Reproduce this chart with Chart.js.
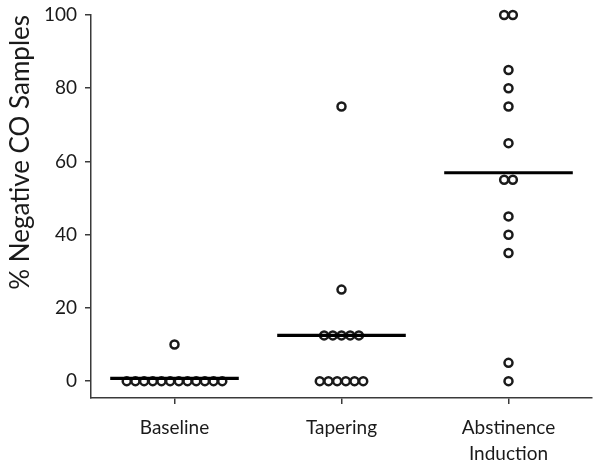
<!DOCTYPE html>
<html>
<head>
<meta charset="utf-8">
<script src="https://cdn.jsdelivr.net/npm/chart.js@4"></script>
<style>
  html, body { margin: 0; padding: 0; background: #fff; }
</style>
</head>
<body>
<canvas id="coChart" width="602" height="469"></canvas>
<script>
const categories = ["Baseline", "Tapering", ["Abstinence", "Induction"]];
const baseline = [0, 0, 0, 0, 0, 0, 0, 0, 0, 0, 0, 0, 10];
const tapering = [0, 0, 0, 0, 0, 0, 12.5, 12.5, 12.5, 12.5, 12.5, 25, 75];
const abstinence = [0, 5, 35, 40, 45, 55, 55, 65, 75, 80, 85, 100, 100];
const yTicks = [0, 20, 40, 60, 80, 100];

const groups = [baseline, tapering, abstinence];
const SPREAD = 0.052;
const HALF_LINE = 0.385;

// dot plot: identical values sit side by side around the category
function swarm(values, index) {
  const counts = {};
  values.forEach((v) => (counts[v] = (counts[v] || 0) + 1));
  const seen = {};
  return values.map((v) => {
    const i = seen[v] || 0;
    seen[v] = i + 1;
    return { x: index + (i - (counts[v] - 1) / 2) * SPREAD, y: v };
  });
}

function mean(values) {
  return values.reduce((a, b) => a + b, 0) / values.length;
}

const ink = "#1a1a1a";
const axisColor = "#3a3a3a";
const font = { family: "Lato", size: 19, lineHeight: 1.35 };

const pointSets = groups.map((g, i) => ({
  type: "scatter",
  data: swarm(g, i),
  pointRadius: 4,
  pointBorderWidth: 2.5,
  pointBorderColor: ink,
  pointBackgroundColor: "#fff",
  clip: false,
  order: 2,
}));

const meanSets = groups.map((g, i) => ({
  type: "line",
  data: [
    { x: i - HALF_LINE, y: mean(g) },
    { x: i + HALF_LINE, y: mean(g) },
  ],
  borderColor: "#000",
  borderWidth: 3.2,
  pointRadius: 0,
  clip: false,
  order: 1,
}));

new Chart(document.getElementById("coChart"), {
  type: "scatter",
  data: { datasets: [...meanSets, ...pointSets] },
  options: {
    responsive: false,
    animation: false,
    layout: { padding: { left: 4, right: 10, top: 15, bottom: 0 } },
    plugins: { legend: { display: false }, tooltip: { enabled: false } },
    scales: {
      x: {
        type: "linear",
        min: -0.5,
        max: 2.5,
        afterBuildTicks: (scale) => {
          scale.ticks = categories.map((c, i) => ({ value: i }));
        },
        afterFit: (scale) => {
          scale.height = 71;
        },
        ticks: {
          color: ink,
          font: font,
          padding: 11,
          maxRotation: 0,
          callback: (value) => categories[value],
        },
        grid: { drawOnChartArea: false, drawTicks: true, tickLength: 6, color: axisColor, lineWidth: 1.5 },
        border: { display: true, color: axisColor, width: 1.5 },
      },
      y: {
        min: -4.6,
        max: 100,
        afterBuildTicks: (scale) => {
          scale.ticks = yTicks.map((v) => ({ value: v }));
        },
        afterFit: (scale) => {
          scale.width = 87;
          scale.paddingTop = 0;
        },
        ticks: { color: ink, font: { family: "Lato", size: 19 }, padding: 8 },
        grid: { drawOnChartArea: false, drawTicks: true, tickLength: 6, color: axisColor, lineWidth: 1.5 },
        border: { display: true, color: axisColor, width: 1.5 },
        title: {
          display: true,
          text: "% Negative CO Samples",
          align: "end",
          color: ink,
          font: { family: "Lato", size: 26 },
          padding: { top: 1, bottom: 0 },
        },
      },
    },
  },
});
</script>
</body>
</html>
